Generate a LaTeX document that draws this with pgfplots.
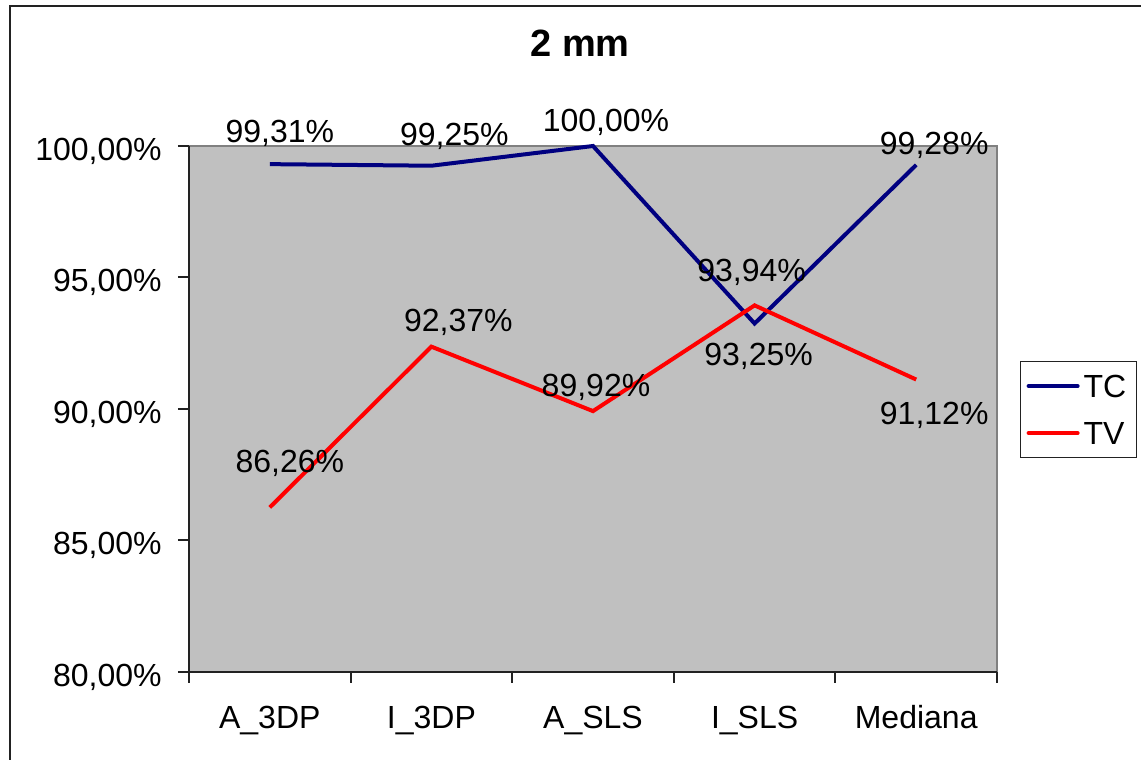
\documentclass[border=0pt]{standalone}
\usepackage{pgfplots}
\pgfplotsset{compat=1.18}
\usepackage{fontspec}
\setmainfont{Liberation Sans}

\definecolor{plotbg}{HTML}{C0C0C0}
\definecolor{areaedge}{HTML}{808080}
\definecolor{tcblue}{HTML}{000080}
\definecolor{tvred}{HTML}{FF0000}
\definecolor{framecol}{HTML}{222222}

\newcommand{\lblfont}{\fontsize{16}{19}\selectfont}
\tikzset{lbl/.style={font=\lblfont, inner sep=0pt, text height=11.5pt, text depth=0pt, anchor=center}}

\begin{document}
\begin{tikzpicture}
% page size and the outer chart frame
\path[use as bounding box] (0pt,0pt) rectangle (570.5pt,380pt);
\draw[framecol, line width=1pt] (5pt,-20pt) -- (5pt,377pt) -- (600pt,377pt);

\begin{axis}[
  at={(94.5pt,44pt)}, anchor=south west,
  width=404pt, height=263pt, scale only axis,
  xmin=-0.5, xmax=4.5, ymin=80, ymax=100,
  clip=false,
  axis x line*=bottom, axis y line*=left,
  axis line style={framecol, line width=1pt, -},
  axis background/.style={fill=plotbg, draw=areaedge, line width=1pt},
  tick align=outside,
  major tick length=5.5pt, minor tick length=5.5pt,
  tick style={framecol, line width=1pt},
  xtick={0,1,2,3,4},
  xticklabels={A\_3DP,I\_3DP,A\_SLS,I\_SLS,Mediana},
  major x tick style={draw=none},
  minor xtick={-0.5,0.5,1.5,2.5,3.5,4.5},
  ytick={80,85,90,95,100},
  yticklabels={{80,00\%},{85,00\%},{90,00\%},{95,00\%},{100,00\%}},
  minor ytick={},
  xticklabel style={font=\lblfont, text height=11.5pt, text depth=0pt, inner sep=0pt, anchor=center, yshift=-17pt},
  yticklabel style={font=\lblfont, text height=11.5pt, text depth=0pt, inner sep=0pt, anchor=east, xshift=-8pt, yshift=-1.5pt},
  title={2 mm},
  title style={font=\fontsize{19}{23}\selectfont\bfseries, at={(0.484,1.173)}, anchor=center,
               text height=13.6pt, text depth=0pt, inner sep=0pt},
  legend style={at={(1.0285,0.5913)}, anchor=north west, draw=framecol, line width=0.6pt,
                fill=white, font=\lblfont, inner xsep=3pt, inner ysep=6.5pt, row sep=12pt,
                nodes={inner xsep=2pt, inner ysep=0pt, text height=11.5pt, text depth=0pt}},
  legend cell align=left,
  legend image code/.code={\draw[#1, line cap=round] (0.5pt,0pt) -- (25pt,0pt);},
  every axis plot/.append style={line width=2pt, mark=none},
]

\addplot[tcblue] coordinates {(0,99.31) (1,99.25) (2,100.00) (3,93.25) (4,99.28)};
\addlegendentry{TC}
\addplot[tvred] coordinates {(0,86.26) (1,92.37) (2,89.92) (3,93.94) (4,91.12)};
\addlegendentry{TV}

% value labels, TC
\node[lbl, xshift=5pt,   yshift=16.5pt]  at (axis cs:0,99.31)  {99,31\%};
\node[lbl, xshift=11.5pt,yshift=16pt]    at (axis cs:1,99.25)  {99,25\%};
\node[lbl, xshift=6.5pt, yshift=13pt]    at (axis cs:2,100.00) {100,00\%};
\node[lbl, xshift=2pt,   yshift=-15pt]   at (axis cs:3,93.25)  {93,25\%};
\node[lbl, xshift=9pt,   yshift=11pt]    at (axis cs:4,99.28)  {99,28\%};
% value labels, TV
\node[lbl, xshift=10pt,  yshift=23pt]    at (axis cs:0,86.26)  {86,26\%};
\node[lbl, xshift=13.5pt,yshift=13.5pt]  at (axis cs:1,92.37)  {92,37\%};
\node[lbl, xshift=1.5pt, yshift=13pt]    at (axis cs:2,89.92)  {89,92\%};
\node[lbl, xshift=-1.5pt,yshift=17.5pt]  at (axis cs:3,93.94)  {93,94\%};
\node[lbl, xshift=9pt,   yshift=-16.5pt] at (axis cs:4,91.12)  {91,12\%};
\end{axis}
\end{tikzpicture}
\end{document}
